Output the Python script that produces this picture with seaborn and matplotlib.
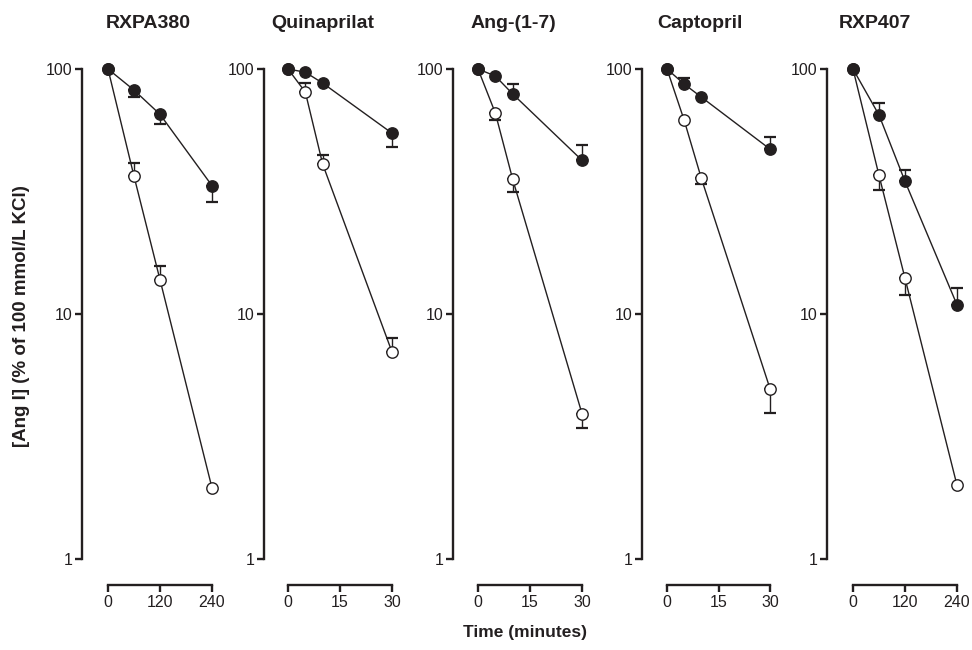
import numpy as np
import pandas as pd
import matplotlib
matplotlib.use("Agg")
import matplotlib.pyplot as plt
from matplotlib.ticker import NullLocator, FixedLocator
import seaborn as sns

# ---------------- data ----------------
panel_titles = ["RXPA380", "Quinaprilat", "Ang-(1-7)", "Captopril", "RXP407"]
times = [[0, 60, 120, 240], [0, 5, 10, 30], [0, 5, 10, 30], [0, 5, 10, 30], [0, 60, 120, 240]]
xtick_values = [[0, 120, 240], [0, 15, 30], [0, 15, 30], [0, 15, 30], [0, 120, 240]]
ytick_values = [1, 10, 100]

filled_mean = [[100, 82.0, 65.3, 33.4],
               [100, 97.0, 87.6, 54.7],
               [100, 93.6, 79.1, 42.4],
               [100, 86.8, 76.8, 47.1],
               [100, 64.9, 34.8, 10.9]]
filled_err_lo = [[0, 5.4, 5.7, 4.8],
                 [0, 0, 0, 6.7],
                 [0, 0, 0, 0],
                 [0, 0, 0, 0],
                 [0, 0, 0, 0]]
filled_err_hi = [[0, 0, 0, 0],
                 [0, 0, 0, 0],
                 [0, 0, 7.7, 6.5],
                 [0, 5.1, 0, 5.6],
                 [0, 7.7, 3.8, 1.9]]

open_mean = [[100, 36.5, 13.8, 1.95],
             [100, 80.5, 40.9, 7.0],
             [100, 66.1, 35.5, 3.92],
             [100, 61.8, 35.8, 4.96],
             [100, 36.8, 14.0, 2.0]]
open_err_lo = [[0, 0, 0, 0],
               [0, 0, 0, 0],
               [0, 4.2, 4.1, 0.5],
               [0, 0, 1.9, 1.0],
               [0, 4.8, 2.0, 0]]
open_err_hi = [[0, 4.9, 1.9, 0],
               [0, 7.0, 3.5, 1.0],
               [0, 0, 0, 0],
               [0, 0, 0, 0],
               [0, 0, 0, 0]]

y_label = "[Ang I] (% of 100 mmol/L KCl)"
x_label = "Time (minutes)"

# ---------------- style ----------------
sns.set_style("ticks")
plt.rcParams["font.family"] = ["Liberation Sans", "DejaVu Sans"]
INK = "#231f20"

W, H = 972, 650
fig = plt.figure(figsize=(W / 100, H / 100), dpi=100)

# layout in pixels
spine_px = [82, 264, 453, 642, 827]
zero_px = [108, 288, 478, 667, 853]
end_px = [212, 392, 582, 770, 957]
title_px = [148, 323, 513, 700, 875]
axis_bottom_px = 585
y1_px = 559
y100_px = 69
axes_top_px = 58
decade_px = (y1_px - y100_px) / 2.0
ylo = 10 ** (-(axis_bottom_px - y1_px) / decade_px)
yhi = 100 * 10 ** ((y100_px - axes_top_px) / decade_px)


def draw_series(ax, t, mean, lo, hi, face, z):
    t = np.asarray(t, float)
    mean = np.asarray(mean, float)
    lo = np.asarray(lo, float)
    hi = np.asarray(hi, float)
    mask = (lo > 0) | (hi > 0)
    if mask.any():
        ax.errorbar(t[mask], mean[mask], yerr=[lo[mask], hi[mask]], fmt="none",
                    ecolor=INK, elinewidth=1.0, capsize=4.2, capthick=1.6, zorder=z - 1)
    df = pd.DataFrame({"t": t, "v": mean})
    sns.lineplot(data=df, x="t", y="v", ax=ax, color=INK, linewidth=1.0,
                 marker="o", markersize=8.2, markerfacecolor=face,
                 markeredgecolor=INK, markeredgewidth=1.0, zorder=z, legend=False)


for i in range(5):
    L = spine_px[i]
    x0 = zero_px[i]
    x1 = end_px[i]
    R = x1 + 12
    xmax = times[i][-1]
    ppu = (x1 - x0) / xmax
    ax = fig.add_axes([L / W, 1 - axis_bottom_px / H, (R - L) / W,
                       (axis_bottom_px - axes_top_px) / H])
    ax.set_yscale("log")

    draw_series(ax, times[i], open_mean[i], open_err_lo[i], open_err_hi[i], "white", 3)
    draw_series(ax, times[i], filled_mean[i], filled_err_lo[i], filled_err_hi[i], INK, 5)

    ax.set_xlim(-(x0 - L) / ppu, xmax + (R - x1) / ppu)
    ax.set_ylim(ylo, yhi)

    ax.yaxis.set_major_locator(FixedLocator(ytick_values))
    ax.yaxis.set_minor_locator(NullLocator())
    ax.set_yticklabels([str(v) for v in ytick_values])
    ax.xaxis.set_major_locator(FixedLocator(xtick_values[i]))
    ax.set_xticklabels([str(v) for v in xtick_values[i]])

    for s in ["top", "right"]:
        ax.spines[s].set_visible(False)
    ax.spines["left"].set_bounds(1, 100)
    ax.spines["bottom"].set_bounds(0, xmax)
    for s in ["left", "bottom"]:
        ax.spines[s].set_linewidth(1.7)
        ax.spines[s].set_color(INK)
    ax.tick_params(axis="both", which="major", length=5, width=1.7, color=INK,
                   labelsize=11.5, labelcolor=INK, pad=2)
    ax.set_xlabel("")
    ax.set_ylabel("")
    ax.patch.set_alpha(0)

    fig.text(title_px[i] / W, 1 - 23 / H, panel_titles[i], ha="center", va="center",
             fontsize=14, fontweight="bold", color=INK)

fig.text(22 / W, 1 - 316 / H, y_label, rotation=90, ha="center", va="center",
         fontsize=13.5, fontweight="bold", color=INK)
fig.text(525 / W, 1 - 632 / H, x_label, ha="center", va="center",
         fontsize=12.5, fontweight="bold", color=INK)

fig.savefig("out.png", dpi=100, facecolor="white")
